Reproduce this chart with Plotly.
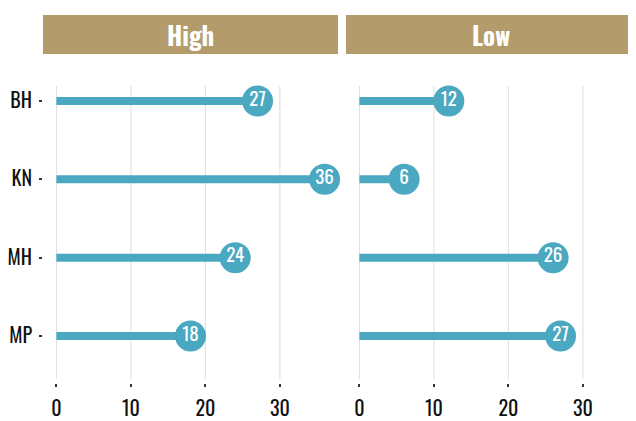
import plotly.graph_objects as go

categories = ["BH", "KN", "MH", "MP"]
high_values = [27, 36, 24, 18]
low_values = [12, 6, 26, 27]
panel_titles = ["High", "Low"]
x_ticks = [0, 10, 20, 30]

FONT = "Oswald, 'Roboto Condensed', 'Liberation Sans Narrow', 'DejaVu Sans Condensed', 'Open Sans', sans-serif"
TEAL = "#4BA8C1"
STRIP = "#B39B6C"
GRID = "#DEDEDE"

# page body adds an 8px margin; place everything relative to that
OFF = 8
W, H = 636 - OFF, 421 - OFF

fig = go.Figure()

for i, vals in enumerate([high_values, low_values]):
    xa = "x" if i == 0 else "x2"
    ya = "y" if i == 0 else "y2"
    lx, ly = [], []
    for c, v in zip(categories, vals):
        lx += [0, v, None]
        ly += [c, c, None]
    fig.add_trace(go.Scatter(x=lx, y=ly, mode="lines", xaxis=xa, yaxis=ya,
                             line=dict(color=TEAL, width=8), hoverinfo="skip",
                             showlegend=False, cliponaxis=False))
    fig.add_trace(go.Scatter(x=vals, y=categories, mode="markers+text", xaxis=xa, yaxis=ya,
                             marker=dict(color=TEAL, size=31, line=dict(width=0)),
                             text=[str(v) for v in vals], textposition="middle center",
                             textfont=dict(color="white", size=19, family=FONT),
                             showlegend=False, cliponaxis=False))

panel_left, panel1_right, panel2_left = 43 - OFF, 338 - OFF, 346 - OFF
panel_top, panel_bottom, strip_top_px = 54 - OFF, 383 - OFF, 15 - OFF
grid_top, grid_bottom = 86 - OFF, 379 - OFF

ml, mr, mt = panel_left, 0, strip_top_px
mb = H - panel_bottom
pw = W - ml - mr
ph = H - mt - mb
ydom_top = (panel_bottom - panel_top) / ph
x1_dom = [0, (panel1_right - ml) / pw]
x2_dom = [(panel2_left - ml) / pw, 1]
px_per_unit = (panel1_right - panel_left) / 39.6

axis_common = dict(showgrid=False, zeroline=False, showline=False, automargin=False,
                   tickvals=x_ticks, ticks="outside", ticklen=3, tickwidth=2,
                   tickcolor="#333333", ticklabelstandoff=5,
                   tickfont=dict(family=FONT, size=20, color="#111111"))
fig.update_layout(
    width=W, height=H,
    margin=dict(l=ml, r=mr, t=mt, b=mb, pad=0, autoexpand=False),
    paper_bgcolor="white", plot_bgcolor="white",
    xaxis=dict(domain=x1_dom, range=[-1.8, 37.8], anchor="y", **axis_common),
    xaxis2=dict(domain=x2_dom, range=[-1.8, -1.8 + (W - panel2_left) / px_per_unit],
                anchor="y2", **axis_common),
    yaxis=dict(domain=[0, ydom_top], range=[3.6, -0.6], type="category",
               categoryorder="array", categoryarray=categories, automargin=False,
               showgrid=False, zeroline=False, showline=False,
               ticks="outside", ticklen=3, tickwidth=1.5, tickcolor="#333333",
               ticklabelstandoff=3,
               tickfont=dict(family=FONT, size=20, color="#111111"), anchor="x"),
    yaxis2=dict(domain=[0, ydom_top], range=[3.6, -0.6], type="category",
                categoryorder="array", categoryarray=categories, automargin=False,
                showgrid=False, zeroline=False, showline=False,
                showticklabels=False, ticks="", anchor="x2"),
)

panel_h = panel_bottom - panel_top
g0 = (panel_bottom - grid_bottom) / panel_h
g1 = (panel_bottom - grid_top) / panel_h
strip_top = (panel_bottom - strip_top_px) / panel_h

shapes = []
annotations = []
for i, title in enumerate(panel_titles):
    xs = "x" if i == 0 else "x2"
    ys = "y" if i == 0 else "y2"
    for t in x_ticks:
        shapes.append(dict(type="line", xref=xs, yref=ys + " domain", x0=t, x1=t,
                           y0=g0, y1=g1, line=dict(color=GRID, width=1), layer="below"))
    shapes.append(dict(type="rect", xref=xs + " domain", yref=ys + " domain",
                       x0=0, x1=1, y0=1.0, y1=strip_top, fillcolor=STRIP,
                       line=dict(width=0), layer="below"))
    annotations.append(dict(text="<b>" + title + "</b>", xref=xs + " domain", yref=ys + " domain",
                            x=0.5, y=(1.0 + strip_top) / 2, xanchor="center", yanchor="middle",
                            showarrow=False, font=dict(family=FONT, size=25, color="white")))
fig.update_layout(shapes=shapes, annotations=annotations)

fig.write_html("out.html")
